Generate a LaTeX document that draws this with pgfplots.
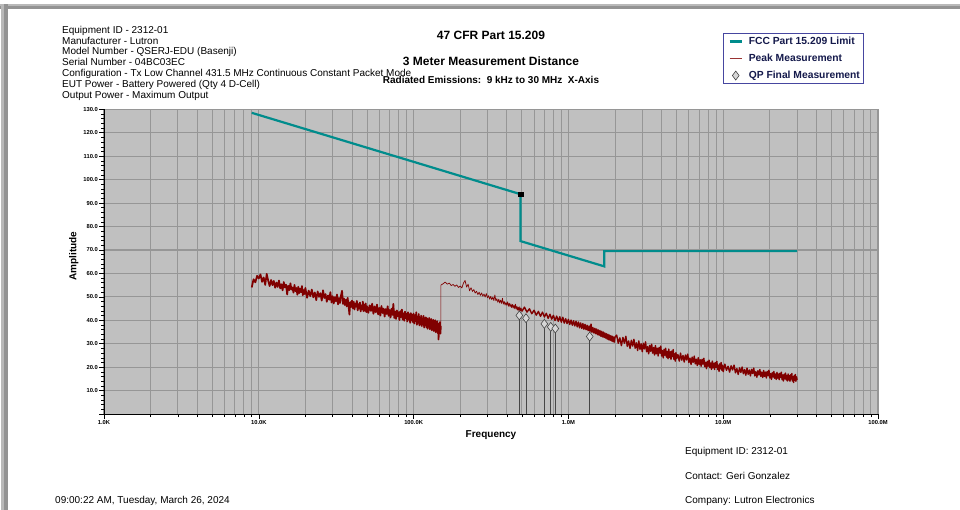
\documentclass[border=0pt]{standalone}
\usepackage{pgfplots}
\pgfplotsset{compat=1.18}
\usepackage{pgfplotstable}
\usepackage{fontspec}
\setmainfont{Liberation Sans}

\definecolor{limitteal}{RGB}{0,140,140}
\definecolor{peakred}{RGB}{128,0,0}
\definecolor{plotbg}{RGB}{192,192,192}
\definecolor{gridgray}{RGB}{150,150,150}
\definecolor{legborder}{RGB}{70,70,160}
\definecolor{legtext}{RGB}{20,25,75}
\definecolor{qpfill}{RGB}{215,215,215}
\definecolor{qpedge}{RGB}{70,70,70}
\definecolor{framegray}{RGB}{128,128,128}

% FCC Part 15.209 limit at 3 m (frequency in kHz, level in dBuV/m)
\pgfplotstableread{
f v
9 128.5
490 93.8
490 73.8
1705 63.0
1705 69.5
30000 69.5
}\limitdata

% Quasi-peak final measurements (kHz, dBuV/m)
\pgfplotstableread{
f v
482 42.1
532 40.9
699 38.5
769 37.2
823 36.5
1373 33.1
}\qpdata

\begin{document}
\begin{tikzpicture}
\path[use as bounding box] (0pt,0pt) rectangle (960pt,510pt);
\fill[white] (0pt,0pt) rectangle (960pt,510pt);

% window frame
\fill[framegray!85] (0pt,501pt) rectangle (960pt,505.5pt);
\fill[framegray!55] (0pt,503.5pt) rectangle (960pt,505.5pt);
\fill[framegray!85] (1pt,0pt) rectangle (8pt,505.5pt);
\fill[framegray!55] (1pt,0pt) rectangle (3.5pt,505.5pt);

\begin{axis}[
  at={(104pt,95.9pt)}, anchor=south west,
  scale only axis, width=774pt, height=304.8pt,
  xmode=log, xmin=1, xmax=100000, ymin=0, ymax=130,
  axis background/.style={fill=plotbg},
  axis x line*=bottom, axis y line*=left,
  axis line style={-, black, line width=0.8pt},
  xtick={1,10,100,1000,10000,100000},
  xticklabels={1.0K,10.0K,100.0K,1.0M,10.0M,100.0M},
  minor xtick={2,3,4,5,6,7,8,9,20,30,40,50,60,70,80,90,200,300,400,500,600,700,800,900,2000,3000,4000,5000,6000,7000,8000,9000,20000,30000,40000,50000,60000,70000,80000,90000},
  ytick={0,10,20,30,40,50,60,70,80,90,100,110,120,130},
  yticklabels={,10.0,20.0,30.0,40.0,50.0,60.0,70.0,80.0,90.0,100.0,110.0,120.0,130.0},
  minor y tick num=4,
  xmajorgrids, ymajorgrids, xminorgrids,
  major grid style={draw=gridgray, line width=1.1pt},
  minor grid style={draw=gridgray, line width=0.9pt},
  tick style={black, line width=0.6pt},
  tick align=outside,
  major tick length=5pt, minor tick length=3pt,
  tick label style={font=\fontsize{5.8}{6}\selectfont\bfseries, text=black},
  xticklabel style={inner sep=1pt},
  yticklabel style={inner sep=1pt},
  legend style={at={(axis description cs:0.7997,1.2503)}, anchor=north west,
    draw=legborder, line width=0.9pt, fill=white, inner sep=1.2pt,
    font=\fontsize{10.3}{11}\selectfont\bfseries, text=legtext,
    row sep=3.2pt, column sep=0pt,
    nodes={inner sep=2pt, text height=7.5pt, text depth=2.3pt}},
  legend cell align=left,
]

\addplot[limitteal, line width=2.2pt,
  legend image code/.code={\path (0pt,0pt) (20pt,0pt);
    \draw[limitteal, line width=2.5pt] (4pt,0pt) -- (16.6pt,0pt);}]
  table[x=f, y=v] {\limitdata};
\addlegendentry{FCC Part 15.209 Limit}

% peak sweep, 9 kHz - 150 kHz band
\addplot[peakred, line width=1.7pt, line join=round,
  legend image code/.code={\path (0pt,0pt) (20pt,0pt);
    \draw[peakred!80, line width=0.8pt] (4pt,0pt) -- (16.6pt,0pt);}]
  coordinates {
(9.00,54.0)(9.25,57.5)(9.50,56.2)(9.75,59.0)(10.00,57.8)(10.25,59.6)(10.50,56.4)(10.75,58.3)(11.00,55.1)(11.25,59.8)
(11.50,56.9)(11.75,54.6)(12.00,57.2)(12.25,55.0)(12.50,56.8)(12.75,53.9)(13.00,56.1)(13.25,54.2)(13.50,57.0)(13.75,53.6)
(14.00,55.4)(14.25,52.8)(14.50,56.3)(14.75,54.0)(15.00,55.2)(15.25,51.0)(15.50,54.7)(15.75,52.9)(16.00,55.8)(16.25,53.1)
(16.50,54.0)(16.75,51.8)(17.00,55.1)(17.25,52.4)(17.50,53.8)(17.75,50.9)(18.00,54.3)(18.25,51.6)(18.50,53.5)(18.75,52.0)
(19.00,54.6)(19.25,50.7)(19.50,52.9)(19.75,51.2)(20.00,53.8)
(20.5,49.6)(21.0,52.7)(21.5,50.3)(22.0,53.1)(22.5,49.8)(23.0,51.9)(23.5,48.6)(24.0,52.3)(24.5,50.0)(25.0,51.6)
(25.5,48.4)(26.0,52.8)(26.5,49.5)(27.0,51.2)(27.5,47.9)(28.0,50.6)(28.5,48.8)(29.0,52.0)(29.5,47.6)(30.0,50.3)
(30.5,47.2)(31.0,49.9)(31.5,48.1)(32.0,51.0)(32.5,46.8)(33.0,49.5)(33.5,47.4)(34.0,50.7)(34.5,52.6)(35.0,47.0)
(35.5,49.3)(36.0,46.5)(36.5,48.8)(37.0,45.9)(37.5,49.6)(38.0,46.2)(38.5,42.4)(39.0,47.8)(39.5,45.7)(40.0,48.4)
(40.5,45.1)(41.0,47.9)(41.5,44.6)(42.0,47.2)(42.5,45.8)(43.0,48.3)(43.5,44.2)(44.0,46.9)(44.5,45.0)(45.0,47.6)
(45.5,43.8)(46.0,46.3)(46.5,44.7)(47.0,48.0)(47.5,43.9)(48.0,46.6)(48.5,44.1)(49.0,47.2)(49.5,43.5)(50.0,46.0)
(51,43.2)(52,46.4)(53,44.0)(54,47.1)(55,42.8)(56,45.9)(57,43.4)(58,46.7)(59,42.5)(60,45.3)
(61,42.0)(62,46.1)(63,43.1)(64,45.0)(65,41.6)(66,44.8)(67,42.7)(68,46.0)(69,41.9)(70,44.4)
(71,41.2)(72,44.9)(73,42.3)(74,47.0)(75,41.0)(76,43.8)(77,40.6)(78,44.2)(79,41.7)(80,43.5)
(81,40.1)(82,43.9)(83,41.4)(84,44.6)(85,40.3)(86,43.0)(87,39.8)(88,43.7)(89,40.9)(90,42.8)
(91,39.5)(92,43.4)(93,40.2)(94,42.6)(95,38.9)(96,43.1)(97,40.0)(98,42.3)(99,39.2)(100,42.9)
(101,38.6)(102,42.1)(103,39.7)(104,43.4)(105,38.1)(106,41.5)(107,39.0)(108,42.7)(109,37.8)(110,41.2)
(111,38.4)(112,42.0)(113,37.5)(114,40.8)(115,38.9)(116,41.9)(117,36.9)(118,40.4)(119,38.2)(120,41.3)
(121,37.1)(122,40.9)(123,36.4)(124,39.8)(125,37.6)(126,41.0)(127,36.2)(128,39.5)(129,37.3)(130,40.6)
(131,35.8)(132,39.9)(133,36.9)(134,40.2)(135,35.4)(136,38.8)(137,36.6)(138,40.0)(139,34.9)(140,38.5)
(141,36.1)(142,39.6)(143,34.5)(144,38.0)(145,31.8)(146,38.7)(147,35.2)(148,39.3)(149,34.3)(150,37.6)
  };
\addlegendentry{Peak Measurement}

% peak sweep, 150 kHz - 500 kHz (quieter part of the trace)
\addplot[peakred, line width=0.7pt, line join=round, forget plot]
  coordinates {
(150,37.6)
(150,55.0)(155,55.6)(160,56.3)(165,55.4)(170,55.9)(175,54.8)(180,55.3)(185,54.5)(190,55.1)(195,54.0)
(200,54.6)(205,53.8)(210,55.9)(215,57.0)(220,54.2)(225,55.4)(230,52.6)(235,53.9)(240,52.3)(245,53.1)
(250,51.6)(255,52.4)(260,51.0)(265,52.0)(270,50.6)(275,51.7)(280,50.3)(285,51.2)(290,49.9)(295,51.4)
(300,49.6)(305,50.5)(310,49.0)(315,50.2)(320,48.8)(325,49.9)(330,48.4)(335,50.8)(340,48.3)(345,49.2)
(350,47.7)(355,49.0)(360,47.4)(365,48.6)(370,47.2)(375,49.4)(380,46.9)(385,48.0)(390,46.5)(395,47.6)
(400,46.4)(405,47.9)(410,46.0)(415,47.3)(420,45.8)(425,47.0)(430,45.4)(435,46.8)(440,45.2)(445,46.5)
(450,44.9)(455,46.9)(460,44.7)(465,46.0)(470,44.3)(475,45.6)(480,43.9)(485,45.8)(490,44.0)(495,45.2)
(500,43.8)
  };

% peak sweep, 500 kHz - 30 MHz
\addplot[peakred, line width=1.4pt, line join=round, forget plot]
  coordinates {
(500,43.8)(520,45.6)(540,43.5)(560,44.9)(580,42.8)(600,44.3)(620,42.2)(640,43.8)(660,41.7)(680,43.5)
(700,41.4)(720,43.0)(740,40.8)(760,42.6)(780,40.5)(800,42.1)(820,39.9)(840,41.8)(860,39.6)(880,41.5)
(900,39.2)(920,41.3)(940,38.8)(960,40.7)(980,38.6)(1000,40.4)(1020,38.2)(1040,40.1)(1060,37.9)(1080,39.8)
(1100,37.6)(1120,39.6)(1140,37.2)(1160,39.3)(1180,36.8)(1200,38.9)(1220,36.5)(1240,38.6)(1260,36.2)(1280,38.3)
(1300,36.0)(1320,37.9)(1340,35.6)(1360,37.6)(1380,35.3)(1400,38.4)(1420,34.9)(1440,36.9)(1460,34.6)(1480,36.6)
(1500,34.3)(1520,36.3)(1540,33.9)(1560,35.9)(1580,33.6)(1600,35.6)(1620,33.2)(1640,35.3)(1660,32.9)(1680,35.0)
(1700,32.7)(1720,34.6)(1740,32.4)(1760,34.3)(1780,32.0)(1800,34.0)(1820,31.7)(1840,33.7)(1860,31.5)(1880,33.4)
(1900,31.2)(1920,33.2)(1940,30.9)(1960,32.9)(1980,30.7)(2000,32.8)
(2050,33.7)(2100,30.2)(2150,32.5)(2200,29.2)(2250,32.7)(2300,30.2)(2350,33.2)(2400,28.9)(2450,31.2)(2500,28.0)
(2550,31.5)(2600,29.0)(2650,31.9)(2700,28.1)(2750,30.4)(2800,27.1)(2850,31.2)(2900,27.6)(2950,30.0)(3000,26.6)
(3050,30.2)(3100,27.8)(3150,30.8)(3200,26.6)(3250,28.8)(3300,25.7)(3350,29.3)(3400,26.8)(3450,29.8)(3500,26.0)
(3550,28.4)(3600,25.2)(3650,29.2)(3700,25.7)(3750,28.1)(3800,24.8)(3850,28.4)(3900,26.0)(3950,29.0)(4000,24.8)
(4050,27.1)(4100,24.0)(4150,27.6)(4200,25.1)(4250,28.1)(4300,24.3)(4350,26.7)(4400,23.6)(4450,27.7)(4500,24.2)
(4550,26.6)(4600,23.3)(4650,26.9)(4700,24.5)(4750,27.5)(4800,23.4)(4850,25.7)(4900,22.6)(4950,26.2)(5000,23.7)
(5100,25.4)(5200,22.6)(5300,26.0)(5400,23.0)(5500,25.0)(5600,22.2)(5700,25.2)(5800,23.1)(5900,25.6)(6000,22.0)
(6100,23.9)(6200,21.2)(6300,24.3)(6400,22.1)(6500,24.7)(6600,21.4)(6700,23.4)(6800,20.7)(6900,24.1)(7000,21.2)
(7100,23.2)(7200,20.4)(7300,23.4)(7400,21.3)(7500,23.8)(7600,20.2)(7700,22.1)(7800,19.4)(7900,22.5)(8000,20.4)
(8100,23.0)(8200,19.8)(8300,21.8)(8400,19.1)(8500,22.6)(8600,19.7)(8700,21.7)(8800,19.0)(8900,22.0)(9000,20.0)
(9100,22.5)(9200,19.0)(9300,20.9)(9400,18.2)(9500,21.4)(9600,19.3)(9700,22.0)(9800,18.7)(9900,20.8)(10000,18.1)
(10250,21.3)(10500,18.7)(10750,20.4)(11000,17.9)(11250,20.6)(11500,18.8)(11750,20.9)(12000,17.6)(12250,19.4)(12500,16.9)
(12750,19.7)(13000,17.8)(13250,20.1)(13500,17.2)(13750,19.0)(14000,16.6)(14250,19.6)(14500,17.0)(14750,18.8)(15000,16.3)
(15250,19.1)(15500,17.3)(15750,19.6)(16000,16.3)(16250,18.1)(16500,15.7)(16750,18.5)(17000,16.7)(17250,19.0)(17500,16.1)
(17750,17.9)(18000,15.6)(18250,18.6)(18500,16.1)(18750,17.9)(19000,15.4)(19250,18.2)(19500,16.4)(19750,18.7)(20000,15.4)
(20250,17.3)(20500,14.8)(20750,17.7)(21000,15.8)(21250,18.2)(21500,15.3)(21750,17.1)(22000,14.8)(22250,17.8)(22500,15.3)
(22750,17.1)(23000,14.7)(23250,17.4)(23500,15.7)(23750,17.9)(24000,14.7)(24250,16.6)(24500,14.1)(24750,17.0)(25000,15.1)
(25250,17.5)(25500,14.6)(25750,16.4)(26000,14.1)(26250,17.1)(26500,14.6)(26750,16.4)(27000,14.0)(27250,16.8)(27500,15.0)
(27750,17.3)(28000,14.1)(28250,15.9)(28500,13.5)(28750,16.4)(29000,14.5)(29250,16.9)(29500,14.0)(29750,15.9)(30000,14.6)
  };

\addplot[ycomb, draw=qpedge, line width=0.8pt,
  mark=diamond*, mark size=4.5pt,
  mark options={fill=qpfill, draw=qpedge, line width=0.6pt},
  legend image code/.code={\path (0pt,0pt) (20pt,0pt);
    \draw[mark=diamond*, mark size=4.5pt, mark options={fill=qpfill, draw=qpedge, line width=0.6pt}] plot coordinates {(10pt,0pt)};}]
  table[x=f, y=v] {\qpdata};
\addlegendentry{QP Final Measurement}

% break point of the limit at 490 kHz
\addplot[only marks, mark=square*, mark size=2.4pt, black, forget plot]
  coordinates {(490,93.8)};
\end{axis}

% header block
\begin{scope}[every node/.style={anchor=base west, inner sep=0pt, font=\fontsize{10}{12}\selectfont}]
\node at (62pt,476.7pt) {Equipment ID - 2312-01};
\node at (62pt,465.9pt) {Manufacturer - Lutron};
\node at (62pt,455.1pt) {Model Number - QSERJ-EDU (Basenji)};
\node at (62pt,444.3pt) {Serial Number - 04BC03EC};
\node at (62pt,433.5pt) {Configuration - Tx Low Channel 431.5 MHz Continuous Constant Packet Mode};
\node at (62pt,422.7pt) {EUT Power - Battery Powered (Qty 4 D-Cell)};
\node at (62pt,411.9pt) {Output Power - Maximum Output};
\end{scope}

% titles
\node[anchor=base, inner sep=0pt, font=\fontsize{12}{14}\selectfont\bfseries] at (491pt,470.7pt) {47 CFR Part 15.209};
\node[anchor=base, inner sep=0pt, font=\fontsize{12}{14}\selectfont\bfseries] at (491pt,444.3pt) {3 Meter Measurement Distance};
\node[anchor=base, inner sep=0pt, font=\fontsize{10}{12}\selectfont\bfseries] at (491pt,426pt) {Radiated Emissions:\ \ 9 kHz to 30 MHz\ \ X-Axis};

% axis titles
\node[anchor=base, inner sep=0pt, font=\fontsize{10}{12}\selectfont\bfseries] at (491pt,72pt) {Frequency};
\node[rotate=90, inner sep=0pt, font=\fontsize{10}{12}\selectfont\bfseries] at (73.7pt,254pt) {Amplitude};

% footer
\begin{scope}[every node/.style={anchor=base west, inner sep=0pt, font=\fontsize{10}{12}\selectfont}]
\node at (685pt,55pt) {Equipment ID: 2312-01};
\node at (685pt,30pt) {Contact: Geri Gonzalez};
\node at (685pt,6pt) {Company: Lutron Electronics};
\node at (55pt,6pt) {09:00:22 AM, Tuesday, March 26, 2024};
\end{scope}
\end{tikzpicture}
\end{document}
